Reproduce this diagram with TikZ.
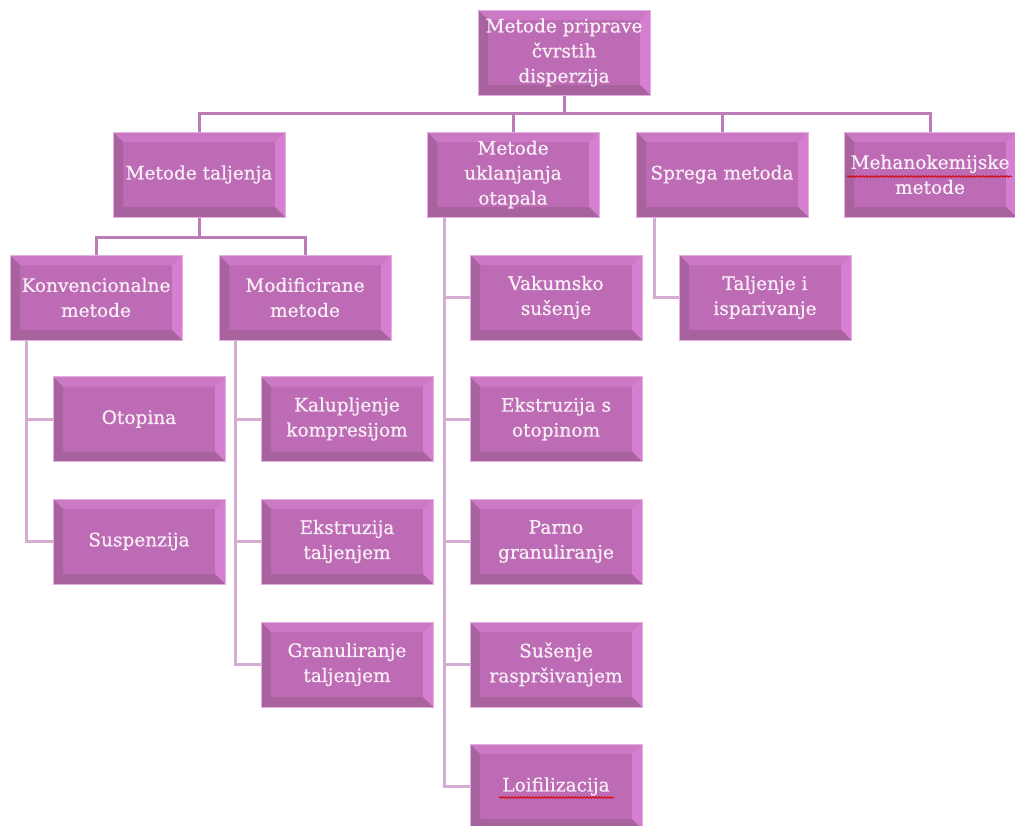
\documentclass[tikz,border=0pt]{standalone}
\usepackage{fontspec}
\setmainfont{DejaVu Serif}[FakeBold=0.6]
\usetikzlibrary{decorations.pathmorphing}
\definecolor{midc}{HTML}{BE6BB6}
\definecolor{topc}{HTML}{CB78C5}
\definecolor{leftc}{HTML}{A8629F}
\definecolor{rightc}{HTML}{D67ED0}
\definecolor{botc}{HTML}{A8629E}
\definecolor{bordc}{HTML}{E2B0DE}
\definecolor{txtc}{HTML}{F8EFF6}
\definecolor{linea}{HTML}{BC7CB6}
\definecolor{lineb}{HTML}{D5ADD2}
\tikzset{
  bev/.style={minimum width=172pt, minimum height=85pt, inner sep=0pt,
    text=txtc, font=\fontsize{18.5pt}{25pt}\selectfont, align=center,
    fill=midc, draw=bordc, line width=1pt,
    path picture={
      \coordinate (pnw) at (path picture bounding box.north west);
      \coordinate (pne) at (path picture bounding box.north east);
      \coordinate (psw) at (path picture bounding box.south west);
      \coordinate (pse) at (path picture bounding box.south east);
      \fill[topc] (pnw) -- (pne) -- ([xshift=-10pt,yshift=-10pt]pne) -- ([xshift=10pt,yshift=-10pt]pnw) -- cycle;
      \fill[leftc] (pnw) -- ([xshift=10pt,yshift=-10pt]pnw) -- ([xshift=10pt,yshift=10pt]psw) -- (psw) -- cycle;
      \fill[rightc] (pne) -- (pse) -- ([xshift=-10pt,yshift=10pt]pse) -- ([xshift=-10pt,yshift=-10pt]pne) -- cycle;
      \fill[botc] (psw) -- ([xshift=10pt,yshift=10pt]psw) -- ([xshift=-10pt,yshift=10pt]pse) -- (pse) -- cycle;
    }},
  conA/.style={draw=linea, line width=3pt},
  conB/.style={draw=lineb, line width=3pt},
  spell/.style={draw=red!85!black, line width=0.8pt, decorate, decoration={snake, amplitude=0.8pt, segment length=3pt}}
}
\begin{document}
\begin{tikzpicture}[x=1pt,y=-1pt]
\fill[white] (0,0) rectangle (1015,825);
\useasboundingbox (0,0) rectangle (1015,825);
\clip (0,0) rectangle (1015,825);

\coordinate (bar1) at (0,113);
\coordinate (bar2) at (0,237);

\node[bev] (top) at (564,52.5) {Metode priprave\\čvrstih\\disperzija};
\node[bev] (talj) at (199,174.5) {Metode taljenja};
\node[bev] (ukl) at (513,174.5) {Metode\\uklanjanja\\otapala};
\node[bev] (spr) at (722,174.5) {Sprega metoda};
\node[bev] (meh) at (930,174.5) {Mehanokemijske\\metode};

\node[bev] (konv) at (96,297.5) {Konvencionalne\\metode};
\node[bev] (modi) at (305,297.5) {Modificirane\\metode};
\node[bev] (vak) at (556,297.5) {Vakumsko\\sušenje};
\node[bev] (tis) at (765,297.5) {Taljenje i\\isparivanje};

\node[bev] (otop) at (139,419) {Otopina};
\node[bev] (kalu) at (347,419) {Kalupljenje\\kompresijom};
\node[bev] (ekso) at (556,419) {Ekstruzija s\\otopinom};

\node[bev] (susp) at (139,541.5) {Suspenzija};
\node[bev] (ekst) at (347,541.5) {Ekstruzija\\taljenjem};
\node[bev] (parn) at (556,541.5) {Parno\\granuliranje};

\node[bev] (gran) at (347,664.5) {Granuliranje\\taljenjem};
\node[bev] (susr) at (556,664.5) {Sušenje\\raspršivanjem};

\node[bev] (loif) at (556,786.5) {Loifilizacija};

% level 1 connectors
\draw[conA] (top.south) -- (top.south |- bar1);
\draw[conA] (talj.north) -- (talj.north |- bar1) -- (meh.north |- bar1) -- (meh.north);
\draw[conA] (ukl.north) -- (ukl.north |- bar1);
\draw[conA] (spr.north) -- (spr.north |- bar1);

% level 2 connectors
\draw[conA] (talj.south) -- (talj.south |- bar2);
\draw[conA] (konv.north) -- (konv.north |- bar2) -- (modi.north |- bar2) -- (modi.north);

% vertical lists
\draw[conB] ([xshift=17pt]konv.south west) |- (susp.west);
\draw[conB] ([xshift=17pt]konv.south west) |- (otop.west);
\draw[conB] ([xshift=17pt]modi.south west) |- (gran.west);
\draw[conB] ([xshift=17pt]modi.south west) |- (kalu.west);
\draw[conB] ([xshift=17pt]modi.south west) |- (ekst.west);
\draw[conB] ([xshift=18pt]ukl.south west) |- (loif.west);
\draw[conB] ([xshift=18pt]ukl.south west) |- (vak.west);
\draw[conB] ([xshift=18pt]ukl.south west) |- (ekso.west);
\draw[conB] ([xshift=18pt]ukl.south west) |- (parn.west);
\draw[conB] ([xshift=18pt]ukl.south west) |- (susr.west);
\draw[conB] ([xshift=19pt]spr.south west) |- (tis.west);

% spell-check underlines
\draw[spell] ([xshift=-83pt,yshift=-2pt]meh.center) -- ([xshift=82pt,yshift=-2pt]meh.center);
\draw[spell] ([xshift=-57pt,yshift=-11pt]loif.center) -- ([xshift=58pt,yshift=-11pt]loif.center);
\end{tikzpicture}
\end{document}
